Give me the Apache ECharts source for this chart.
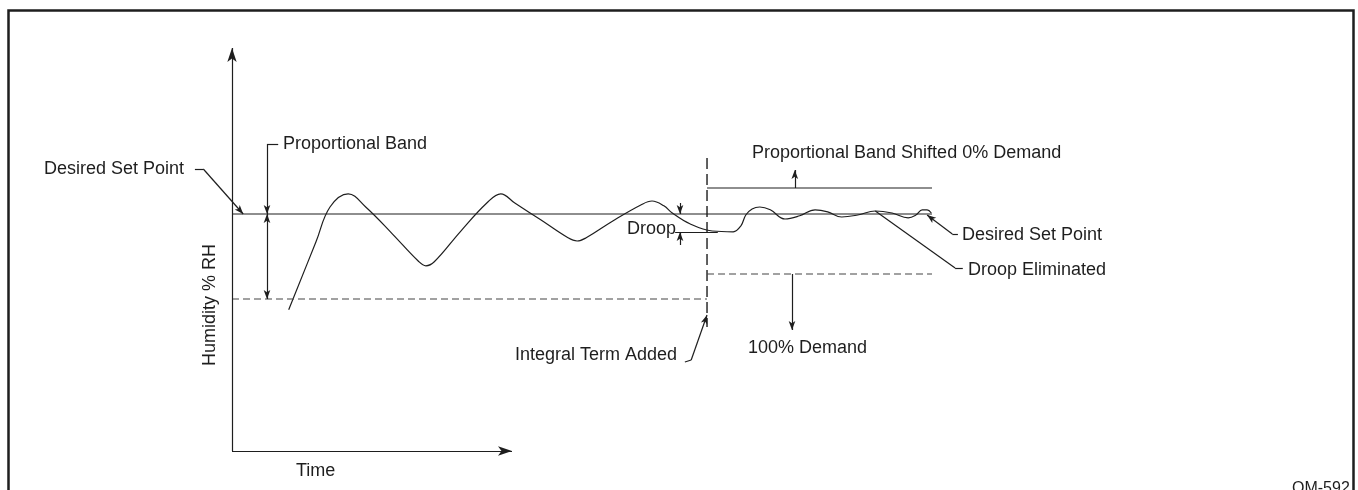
<!DOCTYPE html>
<html>
<head>
<meta charset="utf-8">
<script src="https://cdn.jsdelivr.net/npm/echarts@6/dist/echarts.min.js"></script>
<style>
html,body{margin:0;padding:0;background:#fff;}
#c{width:1358px;height:490px;}
</style>
</head>
<body>
<div id="c"></div>
<script>
// ---- Data (time units, humidity units) ----
const setPoint = 59.25;          // desired set point
const bandLow = 38;              // bottom of proportional band (100% demand before integral)
const integralTime = 67.86;      // time the integral term is added
const shiftedTop = 65.75;        // proportional band shifted, 0% demand
const shiftedLow = 44.25;        // 100% demand after shift
const timeEnd = 100;
const axisTimeEnd = 40;
const axisHumEnd = 100.75;

// humidity response curve [time, humidity]
const response = [
  [8.1,35.3],[12.0,52.3],[14.0,61.0],[16.6,64.3],[19.1,61.0],[22.9,54.3],
  [26.6,47.5],[27.7,46.3],[28.9,47.3],[32.6,54.8],
  [36.4,62.0],[38.4,64.3],[40.4,62.0],[44.1,57.8],
  [48.0,53.3],[49.3,52.5],[50.6,53.3],[54.4,57.5],
  [58.4,61.5],[60.0,62.5],[61.7,61.3],[62.9,59.5],
  [65.4,56.8],[68.6,55.0],[71.6,54.8],[72.7,56.3],[73.4,59.0],
  [74.3,60.5],[75.4,61.0],[76.9,60.3],[79.0,58.0],[81.1,58.8],[83.3,60.3],
  [85.1,59.8],[87.1,58.5],[89.4,59.0],[91.9,60.0],[94.3,59.5],[96.6,58.3],
  [97.7,59.0],[98.6,60.3],[99.3,60.3],[99.9,59.5]
];

// annotation segments: [fromT, fromH, toT, toH, arrowAtEnd]
const segments = [
  // axes
  [0,0,0,axisHumEnd,'axis'],
  [0,0,axisTimeEnd,0,'axis'],
  // proportional band dimension
  [5,76.75,6.6,76.75,false],
  [5,76.75,5,setPoint,true],
  [5,48,5,setPoint,true],
  [5,48,5,bandLow,true],
  // droop dimension
  [64,62,64,setPoint,true],
  [64,51.5,64,54.75,true],
  [63.3,54.75,69.4,54.75,false],
  // band shift arrows
  [80.4,shiftedTop,80.4,70.25,true],
  [80,shiftedLow,80,30.25,true],
  // leaders
  [-5.3,70.5,-4.1,70.5,false],
  [-4.1,70.5,1.6,setPoint,true],
  [103.7,54.25,102.9,54.25,false],
  [102.9,54.25,99.3,59.0,true],
  [104.4,45.75,103.3,45.75,false],
  [103.3,45.75,91.9,60.0,false],
  [64.7,22.25,65.6,22.75,false],
  [65.6,22.75,integralTime,34,true]
];

const ink = '#1e1e1e';
const font = "'Liberation Sans', Arial, sans-serif";

const chart = echarts.init(document.getElementById('c'), null, {renderer:'canvas'});

const markData = segments.map(s => {
  let endSym = 'none', endSize = 0;
  if (s[4] === 'axis') { endSym = 'arrow'; endSize = [7,14]; }
  else if (s[4]) { endSym = 'arrow'; endSize = [5,9]; }
  return [
    {coord:[s[0],s[1]], symbol:'none'},
    {coord:[s[2],s[3]], symbol:endSym, symbolSize:endSize}
  ];
});

function txt(text, x, y, size) {
  return {
    type:'text', x:x, y:y, silent:true,
    style:{text:text, fill:ink, font:(size || 18) + "px " + font, textVerticalAlign:'middle', textAlign:'left'}
  };
}

const option = {
  animation:false,
  backgroundColor:'#fff',
  grid:{left:0, right:0, top:0, bottom:0},
  xAxis:{type:'value', min:-232/7, max:(1358-232)/7, show:false},
  yAxis:{type:'value', min:-39/4, max:451/4, show:false},
  series:[
    {
      type:'line', data:response, smooth:0.4, showSymbol:false, silent:true,
      lineStyle:{color:ink, width:1.2}
    },
    {
      type:'line', data:[[0,setPoint],[timeEnd,setPoint]], showSymbol:false, silent:true,
      lineStyle:{color:ink, width:1.2}
    },
    {
      type:'line', data:[[0,bandLow],[integralTime,bandLow]], showSymbol:false, silent:true,
      lineStyle:{color:'#444', width:1.2, type:[7,4]}
    },
    {
      type:'line', data:[[integralTime,73.25],[integralTime,31]], showSymbol:false, silent:true,
      lineStyle:{color:ink, width:1.4, type:[11,5]}
    },
    {
      type:'line', data:[[integralTime,shiftedTop],[timeEnd,shiftedTop]], showSymbol:false, silent:true,
      lineStyle:{color:ink, width:1.2}
    },
    {
      type:'line', data:[[integralTime,shiftedLow],[timeEnd,shiftedLow]], showSymbol:false, silent:true,
      lineStyle:{color:'#444', width:1.2, type:[7,4]}
    },
    {
      type:'line', data:[], silent:true,
      markLine:{
        silent:true, animation:false,
        symbol:['none','arrow'],
        label:{show:false},
        lineStyle:{color:ink, width:1.2, type:'solid'},
        emphasis:{disabled:true},
        data:markData
      }
    }
  ],
  graphic:[
    {type:'rect', silent:true, shape:{x:8.5, y:10.5, width:1345, height:500},
     style:{fill:'none', stroke:ink, lineWidth:2.5}},
    txt('Desired Set Point', 44, 169),
    txt('Proportional Band', 283, 144),
    txt('Proportional Band Shifted 0% Demand', 752, 153),
    txt('Droop', 627, 229),
    txt('Desired Set Point', 962, 235),
    txt('Droop Eliminated', 968, 270),
    txt('Integral Term Added', 515, 355),
    txt('100% Demand', 748, 348),
    txt('Time', 296, 471),
    txt('OM-592', 1292, 489, 16),
    {type:'text', silent:true, x:210, y:305, rotation:Math.PI/2,
     style:{text:'Humidity % RH', fill:ink, font:"18px " + font, textAlign:'center', textVerticalAlign:'middle'}}
  ]
};
chart.setOption(option);
</script>
</body>
</html>
